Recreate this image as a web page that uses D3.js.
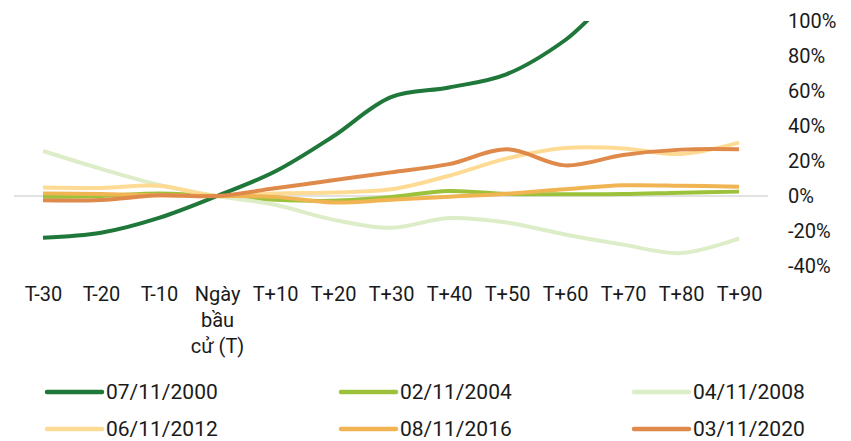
<!DOCTYPE html>
<html>
<head>
<meta charset="utf-8">
<script src="https://cdn.jsdelivr.net/npm/d3@7"></script>
<style>
  html, body { margin: 0; padding: 0; background: #ffffff; }
  svg { display: block; font-family: Roboto, "Noto Sans", Arial, sans-serif; }
</style>
</head>
<body>
<svg id="chart" width="851" height="441"></svg>
<script>
// Trading days relative to the US election day
const categories = ["T-30", "T-20", "T-10", "Ngày bầu cử (T)", "T+10", "T+20", "T+30",
                    "T+40", "T+50", "T+60", "T+70", "T+80", "T+90"];
const categoryLines = [["T-30"], ["T-20"], ["T-10"], ["Ngày", "bầu", "cử (T)"], ["T+10"], ["T+20"],
                       ["T+30"], ["T+40"], ["T+50"], ["T+60"], ["T+70"], ["T+80"], ["T+90"]];

// Cumulative change (%) for each election
const seriesNames = ["07/11/2000", "02/11/2004", "04/11/2008", "06/11/2012", "08/11/2016", "03/11/2020"];
const s2000 = [-23.8, -21.0, -12.5, 0, 14.0, 34.0, 56.5, 62.0, 69.7, 89.0, 118.0, 130.0, 140.0];
const s2004 = [-0.5, 0.0, 1.5, 0, -2.2, -2.7, -0.6, 2.9, 1.1, 1.0, 1.1, 1.9, 2.5];
const s2008 = [25.7, 15.5, 6.3, 0, -5.0, -13.5, -18.2, -12.6, -15.2, -22.0, -27.8, -32.6, -24.2];
const s2012 = [4.8, 4.6, 5.8, 0, 1.5, 2.0, 3.8, 11.6, 21.5, 27.4, 27.2, 24.0, 30.5];
const s2016 = [1.5, 1.1, 0.4, 0, -0.5, -3.7, -2.1, -0.4, 1.3, 3.9, 6.1, 5.9, 5.3];
const s2020 = [-2.5, -2.3, 0.4, 0, 4.4, 9.0, 13.5, 18.2, 26.7, 17.5, 23.4, 26.5, 26.7];
const seriesValues = [s2000, s2004, s2008, s2012, s2016, s2020];
const seriesColors = ["#1f773a", "#9cc23b", "#dcedc8", "#fedb94", "#f1b453", "#df8a4b"];

const yTicks = [-0.4, -0.2, 0, 0.2, 0.4, 0.6, 0.8, 1.0];

const svg = d3.select("#chart");
const plot = { left: 14, right: 768, top: 21, bottom: 266 };

const x = d3.scalePoint().domain(categories).range([plot.left, plot.right]).padding(0.5);
const y = d3.scaleLinear().domain([-0.4, 1.0]).range([plot.bottom, plot.top]);

svg.append("defs").append("clipPath").attr("id", "plot-clip")
  .append("rect")
  .attr("x", plot.left).attr("y", plot.top)
  .attr("width", plot.right - plot.left).attr("height", plot.bottom - plot.top);

// zero baseline
svg.append("line")
  .attr("x1", plot.left).attr("x2", plot.right)
  .attr("y1", y(0)).attr("y2", y(0))
  .attr("stroke", "#d9d9d9").attr("stroke-width", 1.5);

// right-hand percentage axis (plain hyphen for negatives)
const pct = d => `${Math.round(d * 100)}%`;
const yAxis = svg.append("g")
  .attr("transform", `translate(${plot.right + 20},0)`)
  .call(d3.axisRight(y).tickValues(yTicks).tickFormat(pct).tickSize(0).tickPadding(0));
yAxis.select(".domain").remove();
yAxis.selectAll("text")
  .attr("font-family", "Roboto, sans-serif")
  .attr("font-size", 20)
  .attr("fill", "#1a1a1a");

// category axis with wrapped labels
const xAxis = svg.append("g")
  .attr("transform", `translate(0,${plot.bottom})`)
  .call(d3.axisBottom(x).tickSize(0).tickFormat(""));
xAxis.select(".domain").remove();
xAxis.selectAll(".tick").each(function(d, i) {
  const t = d3.select(this).append("text")
    .attr("text-anchor", "middle")
    .attr("font-family", "Roboto, sans-serif")
    .attr("font-size", 20)
    .attr("fill", "#1a1a1a");
  categoryLines[i].forEach((line, k) => {
    t.append("tspan").attr("x", 0).attr("y", 35 + k * 26).text(line);
  });
});

// series lines
const line = d3.line()
  .x((d, i) => x(categories[i]))
  .y(d => y(d / 100))
  .curve(d3.curveCatmullRom.alpha(0.5));

const lines = svg.append("g").attr("clip-path", "url(#plot-clip)");
seriesValues.forEach((vals, k) => {
  lines.append("path")
    .datum(vals)
    .attr("d", line)
    .attr("fill", "none")
    .attr("stroke", seriesColors[k])
    .attr("stroke-width", 4)
    .attr("stroke-linejoin", "round")
    .attr("stroke-linecap", "butt");
});

// legend: three columns, two rows
const legendCols = [47, 341, 634];
const legendRows = [392, 429];
const legend = svg.append("g");
seriesNames.forEach((name, k) => {
  const lx = legendCols[k % 3], ly = legendRows[Math.floor(k / 3)];
  legend.append("line")
    .attr("x1", lx).attr("x2", lx + 55)
    .attr("y1", ly).attr("y2", ly)
    .attr("stroke", seriesColors[k]).attr("stroke-width", 4.5)
    .attr("stroke-linecap", "round");
  legend.append("text")
    .attr("x", lx + 59).attr("y", ly + 7)
    .attr("font-family", "Roboto, sans-serif")
    .attr("font-size", 21)
    .attr("fill", "#1a1a1a")
    .text(name);
});
</script>
</body>
</html>
